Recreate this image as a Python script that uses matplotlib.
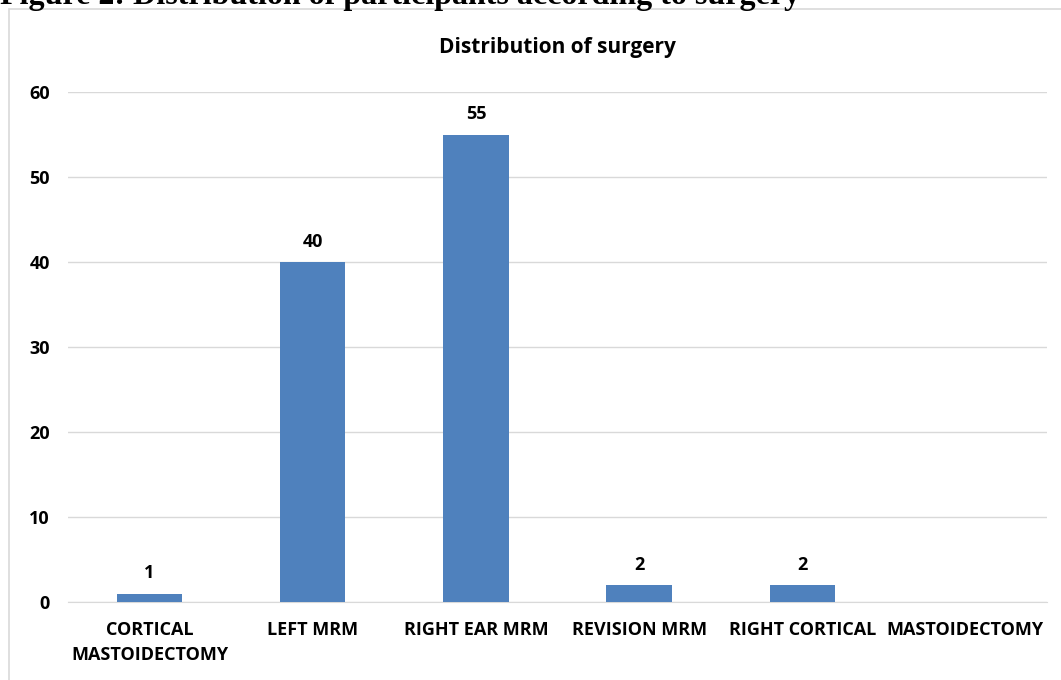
import numpy as np
import matplotlib
matplotlib.use('Agg')
from matplotlib import pyplot as plt
from matplotlib.patches import Rectangle

categories = ['CORTICAL\nMASTOIDECTOMY', 'LEFT MRM', 'RIGHT EAR MRM',
              'REVISION MRM', 'RIGHT CORTICAL', 'MASTOIDECTOMY']
counts = [1, 40, 55, 2, 2, 0]
yticks = [0, 10, 20, 30, 40, 50, 60]

plt.rcParams['font.family'] = ['Open Sans', 'DejaVu Sans']

fig = plt.figure(figsize=(10.61, 6.8), dpi=100)

# caption, cut off at the top of the page like in the source
fig.text(0.0, 1 - 4 / 680, 'Figure 2: Distribution of participants according to surgery',
         family='Liberation Serif', weight='bold', fontsize=23, va='baseline', ha='left')

# chart border
fig.patches.append(Rectangle((8.5 / 1061, -0.01), 1.1, 1 - 9.5 / 680 + 0.01,
                             transform=fig.transFigure, fill=False,
                             edgecolor='#D9D9D9', linewidth=1.2))

ax = fig.add_axes([68 / 1061, 1 - 602 / 680, (1047 - 68) / 1061, (602 - 92) / 680])
x = np.arange(len(categories))
bars = ax.bar(x, counts, width=0.4, color='#4F81BD', zorder=3)
for xi, v in zip(x, counts):
    if v > 0:
        ax.text(xi, v + 1.3, str(v), ha='center', va='bottom',
                fontsize=13, weight='bold')

ax.set_xlim(-0.5, len(categories) - 0.5)
ax.set_ylim(0, 60)
ax.set_yticks(yticks)
ax.set_yticklabels([str(t) for t in yticks], fontsize=13, weight='bold')
ax.set_xticks(x)
ax.set_xticklabels(categories, fontsize=13, weight='bold', linespacing=1.5)
ax.tick_params(length=0)
ax.tick_params(axis='x', pad=14)
ax.tick_params(axis='y', pad=13)
ax.grid(axis='y', color='#D9D9D9', linewidth=1, zorder=0)
for s in ['top', 'right', 'left']:
    ax.spines[s].set_visible(False)
ax.spines['bottom'].set_color('#D9D9D9')
ax.set_title('Distribution of surgery', fontsize=15, weight='bold', pad=28)

plt.savefig('out.png', dpi=100)
